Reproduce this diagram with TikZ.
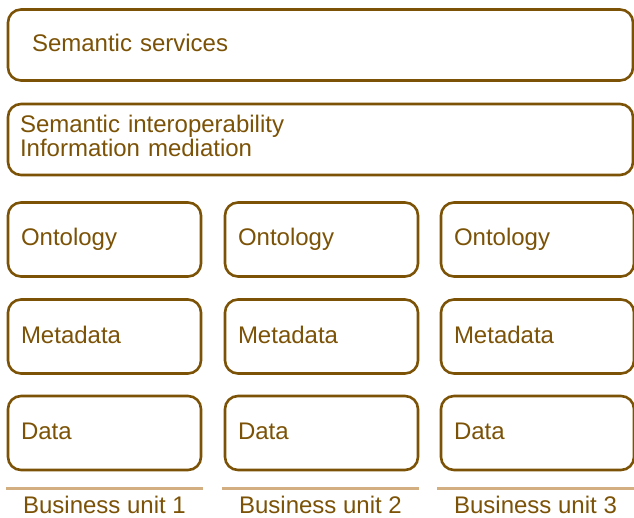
\documentclass[tikz,border=0pt]{standalone}
\usepackage{fontspec}
\setmainfont{Liberation Sans}
\usetikzlibrary{calc}
\definecolor{brn}{HTML}{7B5206}
\definecolor{tan}{HTML}{D2AE80}
\begin{document}
\begin{tikzpicture}[x=1pt,y=-1pt,
  box/.style={draw=brn,line width=2.6pt,rounded corners=13pt,text=brn,
    font=\fontsize{24}{24}\selectfont,align=left,inner ysep=0pt,
    text height=17pt,text depth=4pt,minimum height=#1},
  box/.default=74pt,
  unitline/.style={draw=tan,line width=3pt},
  unitlabel/.style={text=brn,font=\fontsize{24}{24}\selectfont,inner sep=0pt}]
\useasboundingbox (0,0) rectangle (634,518);
% top layers
\node[box=71pt,inner xsep=24pt,text width=577pt] (serv) at (320.5,45) {Semantic services};
\node[box=71pt,inner xsep=12pt,text width=601pt,text depth=31pt] (interop) at (320.5,139.5) {Semantic interoperability\\Information mediation};
% columns
\foreach \c/\x in {1/104.5, 2/321.5, 3/537.5}{
  \node[box,inner xsep=13pt,text width=167pt] (onto\c) at (\x,239.5) {Ontology};
  \node[box,inner xsep=13pt,text width=167pt] (meta\c) at (\x,336.5) {Metadata};
  \node[box,inner xsep=13pt,text width=167pt] (data\c) at (\x,433) {Data};
}
\coordinate (l1a) at (6,488);   \coordinate (l1b) at (203,488);
\coordinate (l2a) at (222,488); \coordinate (l2b) at (419,488);
\coordinate (l3a) at (437,488); \coordinate (l3b) at (634,488);
\foreach \c in {1,2,3}{
  \draw[unitline] (l\c a) -- (l\c b);
  \node[unitlabel] (unit\c) at ($(l\c a)!0.5!(l\c b)+(0,17)$) {Business unit \c};
}
\end{tikzpicture}
\end{document}
